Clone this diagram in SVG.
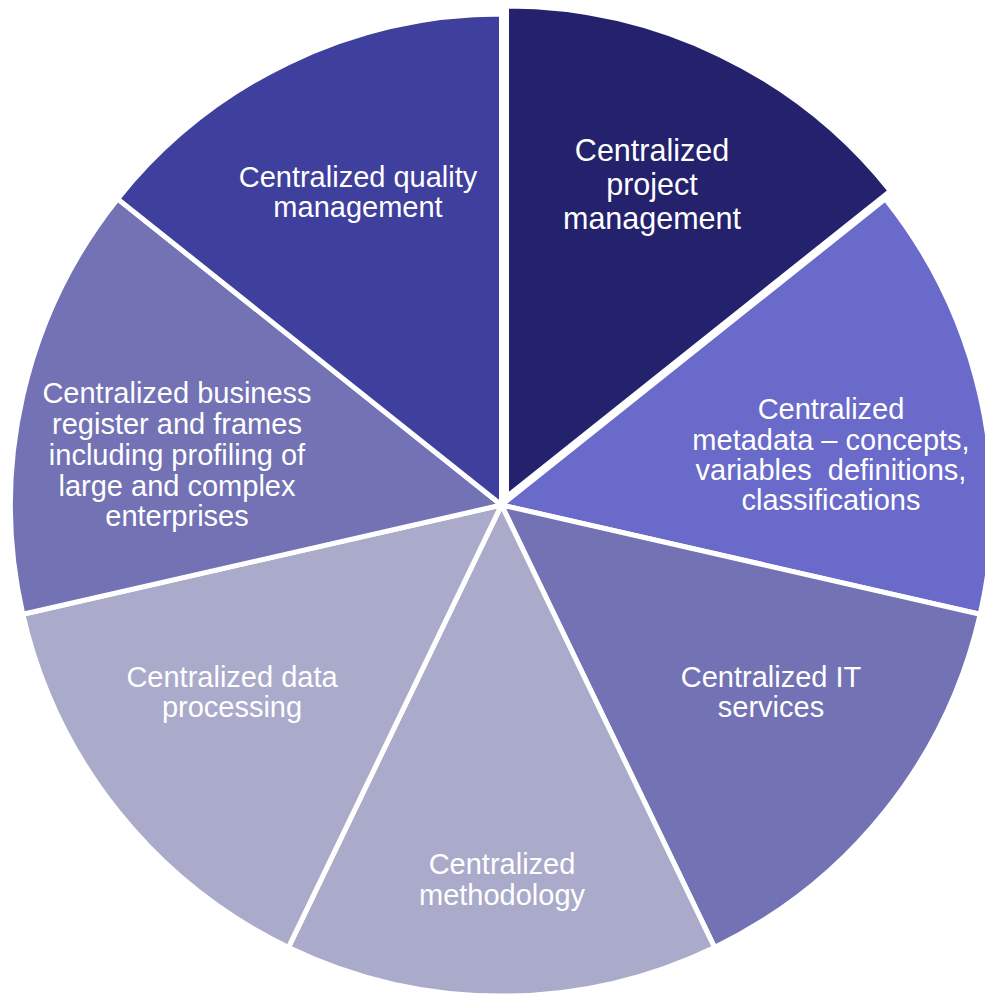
<svg xmlns="http://www.w3.org/2000/svg" width="985" height="994" viewBox="0 0 985 994">
<style>
.s{stroke:#fff;stroke-width:5;stroke-linejoin:miter}
.t{font-family:"Liberation Sans",Arial,sans-serif;font-size:29px;fill:#fff;text-anchor:middle}
.tb{font-size:30.5px}
</style>
<rect width="985" height="994" fill="#fff"/>
<g id="metadata">
<path class="s" fill="#6A6ACB" d="M501.5,505 L885.38,198.87 A491,491 0 0 1 980.19,614.26 Z"/>
<text class="t" x="831" y="419">Centralized</text>
<text class="t" x="831" y="450">metadata – concepts,</text>
<text class="t" x="831" y="480" xml:space="preserve">variables  definitions,</text>
<text class="t" x="831" y="510">classifications</text>
</g>
<g id="it">
<path class="s" fill="#7272B4" d="M501.5,505 L980.19,614.26 A491,491 0 0 1 714.54,947.38 Z"/>
<text class="t" x="771" y="687">Centralized IT</text>
<text class="t" x="771" y="717">services</text>
</g>
<g id="methodology">
<path class="s" fill="#AAAACB" d="M501.5,505 L714.54,947.38 A491,491 0 0 1 288.46,947.38 Z"/>
<text class="t" x="502" y="874">Centralized</text>
<text class="t" x="502" y="905">methodology</text>
</g>
<g id="data">
<path class="s" fill="#AAAACB" d="M501.5,505 L288.46,947.38 A491,491 0 0 1 22.81,614.26 Z"/>
<text class="t" x="232" y="687">Centralized data</text>
<text class="t" x="232" y="717">processing</text>
</g>
<g id="business">
<path class="s" fill="#7272B4" d="M501.5,505 L22.81,614.26 A491,491 0 0 1 117.62,198.87 Z"/>
<text class="t" x="177" y="403">Centralized business</text>
<text class="t" x="177" y="434">register and frames</text>
<text class="t" x="177" y="465">including profiling of</text>
<text class="t" x="177" y="496">large and complex</text>
<text class="t" x="177" y="526">enterprises</text>
</g>
<g id="quality">
<path class="s" fill="#3F3F9D" d="M501.5,505 L117.62,198.87 A491,491 0 0 1 501.5,14 Z"/>
<text class="t" x="358" y="187">Centralized quality</text>
<text class="t" x="358" y="217">management</text>
</g>
<g id="project">
<path class="s" fill="#24216D" d="M506.5,497 L506.5,6 A491,491 0 0 1 890.38,190.87 Z"/>
<text class="t tb" x="652" y="161">Centralized</text>
<text class="t tb" x="652" y="195">project</text>
<text class="t tb" x="652" y="229">management</text>
</g>
</svg>
